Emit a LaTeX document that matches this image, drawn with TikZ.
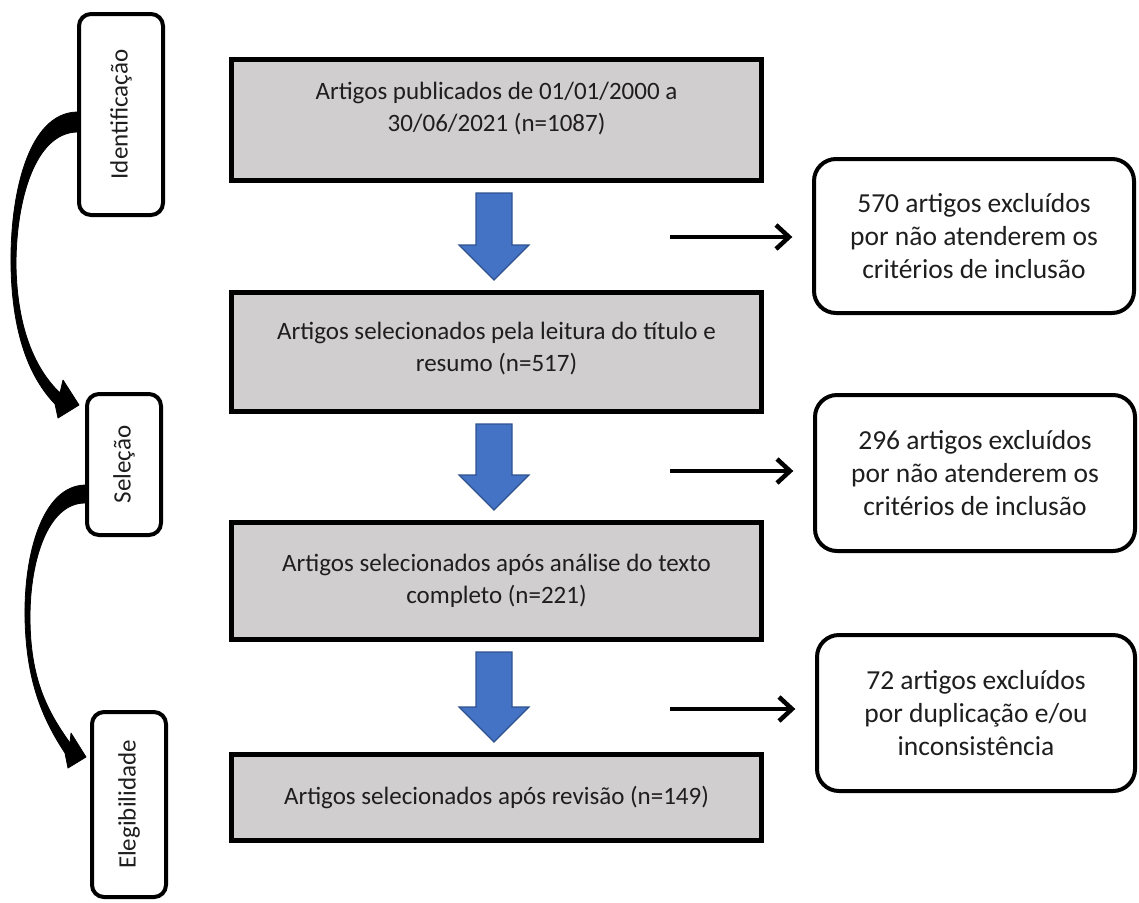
\documentclass[tikz,border=0pt]{standalone}
\usepackage{fontspec}
\setmainfont{Carlito}
\usepackage{graphicx}
\usetikzlibrary{calc,arrows.meta}
\definecolor{boxgray}{RGB}{208,206,206}
\definecolor{ablue}{RGB}{68,114,196}
\definecolor{ablueborder}{RGB}{47,82,143}
\definecolor{txt}{RGB}{30,30,30}
\newcommand{\myblockarrow}[2]{%
  \path ($(#1.south)+(-2.5,10)$) coordinate (bt) ($(#2.north)+(-2.5,-10)$) coordinate (bb);
  \filldraw[blockarrow] ($(bt)+(-18,0)$) -- ($(bt)+(18,0)$) -- ($(bb)+(18,-35)$) -- ($(bb)+(35,-35)$) -- (bb) -- ($(bb)+(-35,-35)$) -- ($(bb)+(-18,-35)$) -- cycle;}
\newcommand{\myharrow}[2]{%
  \path ($(#1.west -| hs)+(0,#2)$) coordinate (hA) ($(#1.west)+(-23,#2)$) coordinate (hB);
  \draw[hline] (hA) -- ($(hB)+(-3,0)$);
  \draw[hline] ($(hB)+(-13,-12)$) -- (hB) -- ($(hB)+(-13,12)$);}
\begin{document}
\begin{tikzpicture}[x=1pt,y=-1pt,
  mainbox/.style={draw=black, line width=5pt, fill=boxgray, minimum width=530pt, align=center, font=\fontsize{25pt}{32pt}\selectfont, text=txt, inner sep=0pt},
  exbox/.style={draw=black, line width=4pt, rounded corners=22pt, fill=white, align=center, font=\fontsize{27.5pt}{33pt}\selectfont, text=txt, inner sep=0pt},
  stagebox/.style={draw=black, line width=4pt, rounded corners=12pt, fill=white, font=\fontsize{25pt}{30pt}\selectfont, text=txt, inner sep=0pt},
  blockarrow/.style={fill=ablue, draw=ablueborder, line width=1.2pt},
  hline/.style={line width=4.5pt, line join=miter},
  curvearrow/.style={fill=black, draw=black, line width=0.8pt, line join=round}
]
\useasboundingbox (0,0) rectangle (1139,902);

% stage boxes
\node[stagebox, minimum width=84pt, minimum height=201pt] (idf) at (121,114.5) {\rotatebox{90}{Identificação}};
\node[stagebox, minimum width=74pt, minimum height=141pt] (sel) at (124,464.5) {\rotatebox{90}{Seleção}};
\node[stagebox, minimum width=74pt, minimum height=185pt] (ele) at (129,804.5) {\rotatebox{90}{Elegibilidade}};

% main boxes
\node[mainbox, minimum height=121pt] (b1) at (496.5,120) {Artigos publicados de 01/01/2000 a\\30/06/2021 (n=1087)\rule[-26pt]{0pt}{26pt}};
\node[mainbox, minimum height=119pt] (b2) at (496.5,352) {Artigos selecionados pela leitura do título e\\resumo (n=517)\rule[-10pt]{0pt}{10pt}};
\node[mainbox, minimum height=117pt] (b3) at (496.5,581) {Artigos selecionados após análise do texto\\completo (n=221)};
\node[mainbox, minimum height=86pt] (b4) at (496.5,797.5) {Artigos selecionados após revisão (n=149)};

% exclusion boxes
\node[exbox, minimum width=320pt, minimum height=154pt] (exA) at (974,236) {570 artigos excluídos\\por não atenderem os\\critérios de inclusão};
\node[exbox, minimum width=320pt, minimum height=156pt] (exB) at (975,473) {296 artigos excluídos\\por não atenderem os\\critérios de inclusão};
\node[exbox, minimum width=318pt, minimum height=156pt] (exC) at (976,713) {72 artigos excluídos\\por duplicação e/ou\\inconsistência};

% block arrows
\myblockarrow{b1}{b2}
\myblockarrow{b2}{b3}
\myblockarrow{b3}{b4}

% horizontal arrows
\coordinate (hs) at (670,0);
\myharrow{exA}{1}
\myharrow{exB}{-2}
\myharrow{exC}{-4}

% curved arrows
\filldraw[curvearrow] ($(idf.west)+(0,-2.5)$) .. controls (28,113) and (10,195) .. (11,265)
  .. controls (12,335) and (30,378) .. (55,404)
  -- (58,418) -- (79,405) -- (63,380) -- (60,393)
  .. controls (36,370) and (17,330) .. (16,265)
  .. controls (16,200) and (35,133) .. ($(idf.west)+(0,17.5)$) -- cycle;
\filldraw[curvearrow] ($(sel.west)+(0,20.5)$) .. controls (42,486) and (24,555) .. (25,617)
  .. controls (26,680) and (42,718) .. (65,753)
  -- (68,768) -- (86,757) -- (71,733) -- (70,743)
  .. controls (48,712) and (30,680) .. (30,617)
  .. controls (30,560) and (48,503) .. ($(sel.west)+(0,38.5)$) -- cycle;
\end{tikzpicture}
\end{document}
